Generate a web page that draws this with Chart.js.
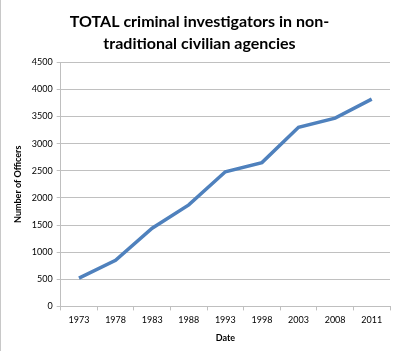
<!DOCTYPE html>
<html>
<head>
<meta charset="utf-8">
<script src="https://cdn.jsdelivr.net/npm/chart.js@4"></script>
<style>
  html, body { margin: 0; padding: 0; background: #fff; }
  #wrap { width: 399px; height: 351px; border-left: 1px solid #c8c8c8; }
</style>
</head>
<body>
<div id="wrap"><canvas id="chart" width="399" height="351"></canvas></div>
<script>
// Years on the x axis
const years = ["1973", "1978", "1983", "1988", "1993", "1998", "2003", "2008", "2011"];
// Number of officers
const officers = [520, 850, 1440, 1870, 2480, 2650, 3300, 3470, 3820];

const titleLines = ["TOTAL criminal investigators in non-", "traditional civilian agencies"];
const fontFamily = "Lato, 'Open Sans', sans-serif";

const config = {
  type: "line",
  data: {
    labels: years,
    datasets: [
      {
        label: "Officers",
        data: officers,
        borderColor: "#4f81bd",
        borderWidth: 3.5,
        pointRadius: 0,
        tension: 0,
        fill: false,
      },
    ],
  },
  options: {
    responsive: false,
    animation: false,
    layout: { padding: { left: 8, right: 10, top: 4, bottom: 4 } },
    plugins: {
      legend: { display: false },
      tooltip: { enabled: false },
      title: {
        display: true,
        text: titleLines,
        color: "#000",
        font: { family: fontFamily, size: 16, weight: "bold", lineHeight: 1.35 },
        padding: { top: 7, bottom: 8 },
      },
    },
    scales: {
      x: {
        offset: true,
        grid: {
          offset: true,
          drawOnChartArea: false,
          color: "#bfbfbf",
          tickLength: 4,
        },
        border: { color: "#bfbfbf" },
        ticks: {
          color: "#000",
          font: { family: fontFamily, size: 9 },
          maxRotation: 0,
          padding: 4,
        },
        title: {
          display: true,
          text: "Date",
          color: "#000",
          font: { family: fontFamily, size: 9, weight: "bold" },
          padding: { top: 3 },
        },
      },
      y: {
        min: 0,
        max: 4500,
        ticks: {
          stepSize: 500,
          color: "#000",
          font: { family: fontFamily, size: 9 },
          padding: 4,
          callback: (v) => String(v),
        },
        grid: { color: "#c0c0c0", tickLength: 4 },
        border: { color: "#bfbfbf" },
        title: {
          display: true,
          text: "Number of Officers",
          color: "#000",
          font: { family: fontFamily, size: 9, weight: "bold" },
          padding: { bottom: 4 },
        },
      },
    },
  },
};

const canvas = document.getElementById("chart");
const myChart = new Chart(canvas, config);
</script>
</body>
</html>
